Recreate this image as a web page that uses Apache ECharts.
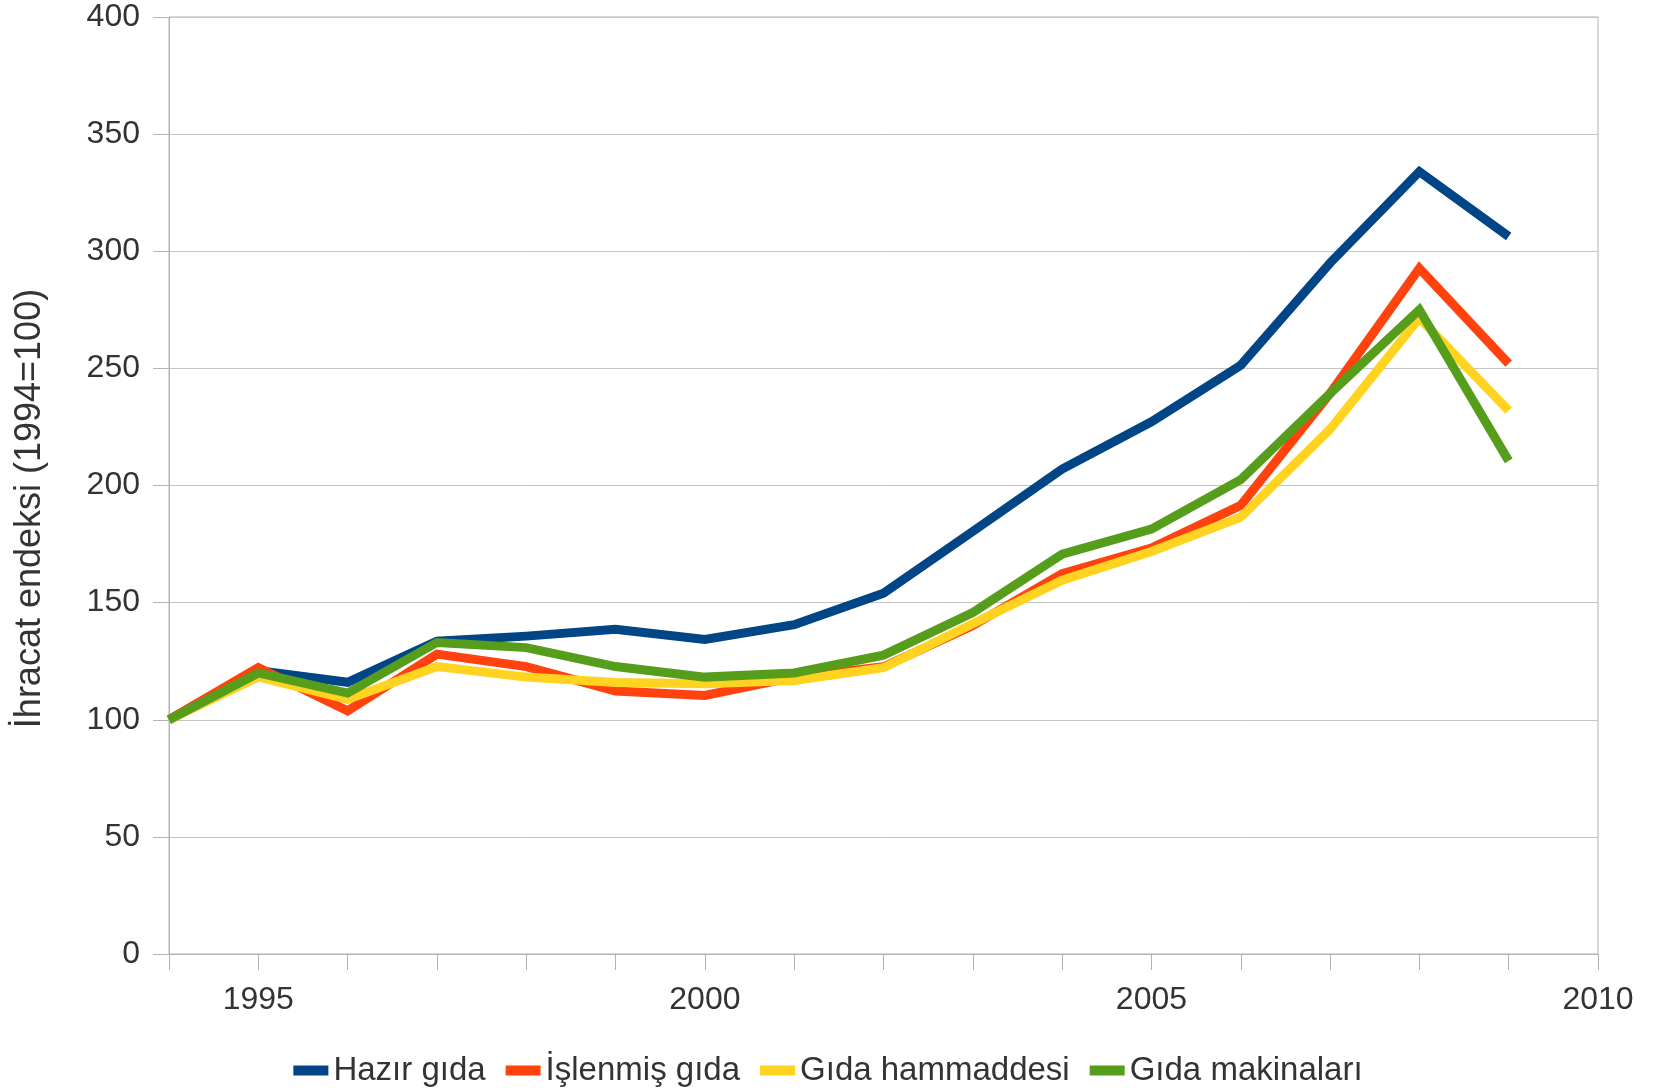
<!DOCTYPE html>
<html>
<head>
<meta charset="utf-8">
<script src="https://cdn.jsdelivr.net/npm/echarts@6/dist/echarts.min.js"></script>
<style>
html, body { margin: 0; padding: 0; background: #fff; }
#chart { width: 1656px; height: 1090px; }
</style>
</head>
<body>
<div id="chart"></div>
<script>
var years = [1994, 1995, 1996, 1997, 1998, 1999, 2000, 2001, 2002, 2003, 2004, 2005, 2006, 2007, 2008, 2009];
var hazir = [100, 121, 116, 133.5, 135.7, 138.6, 134.3, 140.6, 154, 180.4, 207, 227.2, 251.3, 295, 334, 306.3];
var islenmis = [100, 122.3, 103.8, 128, 122.7, 112.3, 110.4, 118.2, 122.6, 140.2, 162.4, 173.3, 191.5, 239.3, 292.7, 252];
var hammadde = [100, 118.3, 108.7, 122.7, 118.2, 115.9, 115.4, 116.8, 122.2, 141, 159.6, 171.8, 186.5, 224, 271.5, 232];
var makina = [100, 120, 111.4, 133, 130.8, 122.7, 118.2, 120, 127.6, 145.8, 170.7, 181.4, 202.5, 239.3, 275, 210.5];

var names = ['Hazır gıda', 'İşlenmiş gıda', 'Gıda hammaddesi', 'Gıda makinaları'];
var colors = ['#004586', '#ff420e', '#ffd320', '#579d1c'];
var values = [hazir, islenmis, hammadde, makina];

var font = 'Liberation Sans, Arial, sans-serif';
var textColor = '#333333';
var lineGray = '#b3b3b3';

function pairs(vals) {
    var out = [];
    for (var i = 0; i < years.length; i++) {
        out.push([years[i], vals[i]]);
    }
    return out;
}

var series_data = [];
for (var k = 0; k < names.length; k++) {
    series_data.push({
        type: 'line',
        name: names[k],
        data: pairs(values[k]),
        showSymbol: false,
        symbol: 'none',
        animation: false,
        lineStyle: {
            width: 9,
            color: colors[k],
            cap: 'butt',
            join: 'miter'
        },
        itemStyle: { color: colors[k] }
    });
}

var chart = echarts.init(document.getElementById('chart'));
chart.setOption({
    animation: false,
    color: colors,
    grid: {
        left: 169,
        right: 58,
        top: 17,
        bottom: 136,
        show: true,
        borderColor: lineGray,
        borderWidth: 1
    },
    legend: {
        bottom: -2,
        left: 'center',
        icon: 'rect',
        itemWidth: 35,
        itemHeight: 10,
        itemGap: 20,
        textStyle: {
            fontFamily: font,
            fontSize: 33,
            color: textColor,
            padding: [0, 0, 0, 0]
        },
        data: names
    },
    xAxis: {
        type: 'value',
        min: 1994,
        max: 2010,
        interval: 1,
        axisLine: { show: true, lineStyle: { color: lineGray, width: 1 } },
        axisTick: { show: true, length: 16, lineStyle: { color: lineGray } },
        splitLine: { show: false },
        axisLabel: {
            margin: 30,
            fontFamily: font,
            fontSize: 32,
            color: textColor,
            formatter: function (v) {
                return v % 5 === 0 ? String(v) : '';
            }
        }
    },
    yAxis: {
        type: 'value',
        min: 0,
        max: 400,
        interval: 50,
        name: 'İhracat endeksi (1994=100)',
        nameLocation: 'middle',
        nameGap: 121,
        nameTextStyle: {
            fontFamily: font,
            fontSize: 36,
            color: textColor,
            padding: [0, 46, 0, 0]
        },
        axisLine: { show: true, lineStyle: { color: lineGray, width: 1 } },
        axisTick: { show: true, length: 16, lineStyle: { color: lineGray } },
        splitLine: { show: true, lineStyle: { color: '#c4c4c4', width: 1 } },
        axisLabel: {
            margin: 29,
            fontFamily: font,
            fontSize: 32,
            color: textColor
        }
    },
    series: series_data
});
</script>
</body>
</html>
